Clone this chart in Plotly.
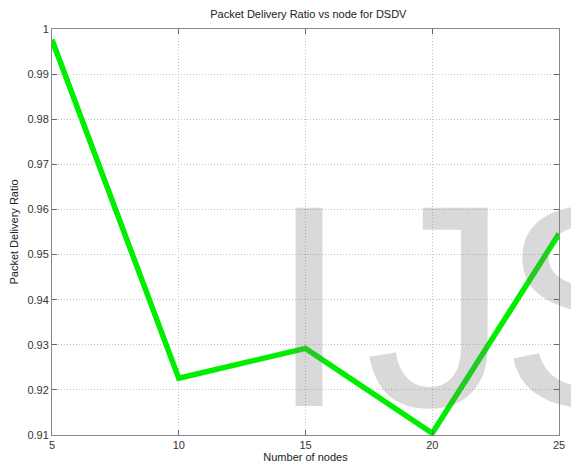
import plotly.graph_objects as go

nodes = [5, 10, 15, 20, 25]
pdr = [0.9976, 0.9226, 0.9292, 0.9104, 0.9546]
x_ticks = [5, 10, 15, 20, 25]
y_ticks = [0.91, 0.92, 0.93, 0.94, 0.95, 0.96, 0.97, 0.98, 0.99, 1.0]
y_tick_text = ["0.91", "0.92", "0.93", "0.94", "0.95", "0.96", "0.97", "0.98", "0.99", "1"]
watermark = ["I", "J", "S"]

fig = go.Figure()
fig.add_trace(go.Scatter(x=nodes, y=pdr, mode="lines",
                         line=dict(color="#00ee00", width=5.5),
                         showlegend=False))

axis_common = dict(showline=True, linecolor="#888888", linewidth=1, mirror="ticks",
                   ticks="inside", ticklen=5, tickcolor="#666666",
                   showgrid=True, gridcolor="#c4c4c4", griddash="1px,2px", gridwidth=1,
                   zeroline=False, tickfont=dict(size=11, color="#333333"),
                   ticklabeloverflow="allow")

fig.update_xaxes(range=[5, 25], tickvals=x_ticks,
                 title=dict(text="Number of nodes", font=dict(size=11, color="#222222"), standoff=2),
                 **axis_common)
fig.update_yaxes(range=[0.91, 1.0], tickvals=y_ticks, ticktext=y_tick_text,
                 title=dict(text="Packet Delivery Ratio", font=dict(size=11, color="#222222"), standoff=6),
                 **axis_common)

centers = [312, 442, 602]
for letter, cx in zip(watermark, centers):
    fig.add_annotation(text=letter, xref="paper", yref="paper", x=(cx - 52) / 513,
                       y=(435 - 469) / 406,
                       xanchor="center", yanchor="bottom", showarrow=False,
                       font=dict(family="Liberation Sans", size=288, color="rgba(120,120,120,0.28)"))

fig.update_layout(
    width=571, height=469,
    margin=dict(l=52, r=6, t=29, b=34),
    paper_bgcolor="white", plot_bgcolor="white",
    font=dict(family="Liberation Sans", size=11, color="#222222"),
    title=dict(text="Packet Delivery Ratio vs node for DSDV", x=0.54, xanchor="center",
               y=0.97, yanchor="middle", font=dict(size=11, color="#222222")),
)

fig.write_html("out.html")
